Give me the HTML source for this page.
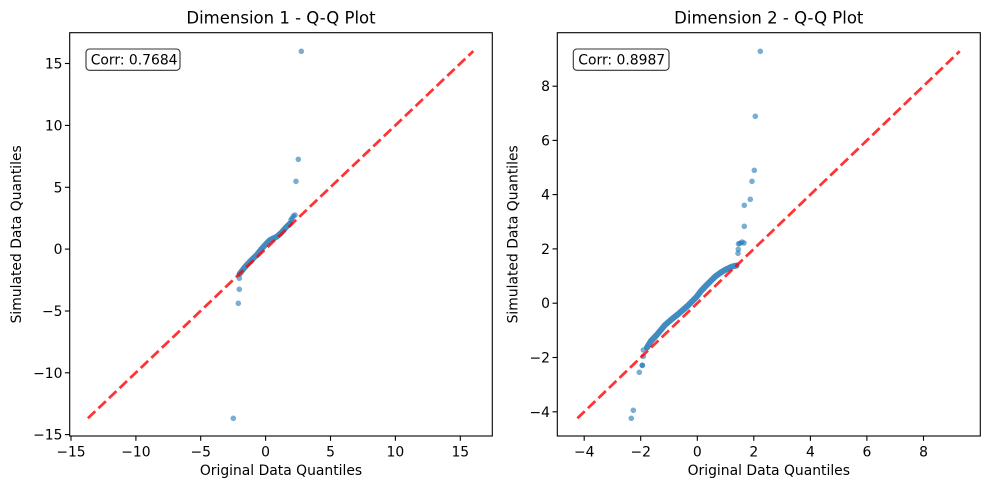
<!DOCTYPE html>
<html><head><meta charset="utf-8"><style>
html,body{margin:0;padding:0;background:#fff;}
svg{display:block;font-family:"DejaVu Sans","Liberation Sans",sans-serif;}
</style></head><body>
<svg width="989" height="490" viewBox="0 0 989 490" xmlns="http://www.w3.org/2000/svg">
<rect width="989" height="490" fill="#fff"/>

<!-- ===== LEFT PLOT ===== -->
<text x="281" y="23.5" font-size="16.5" text-anchor="middle" fill="#000">Dimension 1 - Q-Q Plot</text>
<g fill="#1f77b4" fill-opacity="0.6">
<circle cx="301.3" cy="51.3" r="2.8"/>
<circle cx="298.3" cy="159.3" r="2.8"/>
<circle cx="296" cy="181.3" r="2.8"/>
<circle cx="292" cy="218.3" r="2.8"/>
<circle cx="295" cy="215" r="2.8"/>
<circle cx="293.5" cy="216" r="2.8"/>
<circle cx="291" cy="220" r="2.8"/>
<circle cx="239.3" cy="278.3" r="2.8"/>
<circle cx="239.3" cy="289.3" r="2.8"/>
<circle cx="238.3" cy="303.3" r="2.8"/>
<circle cx="233.3" cy="418.3" r="2.8"/>
</g>
<polyline fill="none" stroke="#1f77b4" stroke-opacity="0.85" stroke-width="5.8" stroke-linecap="round" stroke-linejoin="round"
 points="239.5,274 243,269.5 246.7,265 251,260.5 256.7,255 261,249.5 266.6,243.3 270,240 273,238.5 276.6,236.8 281,233 286.6,226.7 290,223.5"/>
<line x1="87.9" y1="418.3" x2="473.3" y2="51.1" stroke="#ff0000" stroke-opacity="0.8" stroke-width="2.75" stroke-dasharray="10.2 4.4"/>
<rect x="69.7" y="32.7" width="422.6" height="403.3" fill="none" stroke="#000" stroke-width="1.1"/>
<rect x="86" y="49" width="94" height="21.3" rx="3.5" fill="#fff" fill-opacity="0.8" stroke="#000" stroke-opacity="0.8" stroke-width="1.1"/>
<text x="90.7" y="64.3" font-size="13.9" fill="#000">Corr: 0.7684</text>
<!-- x ticks -->
<g stroke="#000" stroke-width="1.1">
<line x1="71" y1="436" x2="71" y2="440.8"/>
<line x1="135.9" y1="436" x2="135.9" y2="440.8"/>
<line x1="200.7" y1="436" x2="200.7" y2="440.8"/>
<line x1="265.6" y1="436" x2="265.6" y2="440.8"/>
<line x1="330.5" y1="436" x2="330.5" y2="440.8"/>
<line x1="395.4" y1="436" x2="395.4" y2="440.8"/>
<line x1="460.3" y1="436" x2="460.3" y2="440.8"/>
<line x1="69.7" y1="63.5" x2="64.9" y2="63.5"/>
<line x1="69.7" y1="125.4" x2="64.9" y2="125.4"/>
<line x1="69.7" y1="187.3" x2="64.9" y2="187.3"/>
<line x1="69.7" y1="249.1" x2="64.9" y2="249.1"/>
<line x1="69.7" y1="311" x2="64.9" y2="311"/>
<line x1="69.7" y1="372.8" x2="64.9" y2="372.8"/>
<line x1="69.7" y1="434.6" x2="64.9" y2="434.6"/>
</g>
<g font-size="13.9" text-anchor="middle" fill="#000">
<text x="71" y="456.7">−15</text>
<text x="135.9" y="456.7">−10</text>
<text x="200.7" y="456.7">−5</text>
<text x="265.6" y="456.7">0</text>
<text x="330.5" y="456.7">5</text>
<text x="395.4" y="456.7">10</text>
<text x="460.3" y="456.7">15</text>
</g>
<g font-size="13.9" text-anchor="end" fill="#000">
<text x="62.5" y="68.5">15</text>
<text x="62.5" y="130.4">10</text>
<text x="62.5" y="192.3">5</text>
<text x="62.5" y="254.1">0</text>
<text x="62.5" y="316">−5</text>
<text x="62.5" y="377.8">−10</text>
<text x="62.5" y="439.6">−15</text>
</g>
<text x="281" y="475" font-size="13.9" text-anchor="middle" fill="#000">Original Data Quantiles</text>
<text transform="translate(21,234.3) rotate(-90)" font-size="13.9" text-anchor="middle" fill="#000">Simulated Data Quantiles</text>

<!-- ===== RIGHT PLOT ===== -->
<text x="768.8" y="23.5" font-size="16.5" text-anchor="middle" fill="#000">Dimension 2 - Q-Q Plot</text>
<g fill="#1f77b4" fill-opacity="0.6">
<circle cx="760.3" cy="51.3" r="2.8"/>
<circle cx="755.3" cy="116.3" r="2.8"/>
<circle cx="754.3" cy="170.3" r="2.8"/>
<circle cx="752" cy="181.3" r="2.8"/>
<circle cx="750.3" cy="199.3" r="2.8"/>
<circle cx="744.3" cy="205.3" r="2.8"/>
<circle cx="744.3" cy="226.3" r="2.8"/>
<circle cx="740" cy="243.3" r="2.8"/>
<circle cx="742" cy="242" r="2.8"/>
<circle cx="744" cy="243" r="2.8"/>
<circle cx="738.5" cy="243.8" r="2.8"/>
<circle cx="738.3" cy="249.3" r="2.8"/>
<circle cx="738" cy="253.3" r="2.8"/>
<circle cx="643.3" cy="350" r="2.8"/>
<circle cx="643.3" cy="356.3" r="2.8"/>
<circle cx="642.3" cy="365.3" r="2.8"/>
<circle cx="642.3" cy="365.3" r="2.8"/>
<circle cx="639.3" cy="372.3" r="2.8"/>
<circle cx="633.3" cy="410.3" r="2.8"/>
<circle cx="631.3" cy="418.3" r="2.8"/>
</g>
<polyline fill="none" stroke="#1f77b4" stroke-opacity="0.85" stroke-width="6" stroke-linecap="round" stroke-linejoin="round"
 points="647,347.5 651,341 656.7,335 665,325 672,319 678.3,314 686.7,306.7 696.7,296.7 701,291 706.7,285 715,276.7 720,273 725,270 731.7,266.7 736.5,265.5"/>
<line x1="577.4" y1="418.3" x2="959.7" y2="51.3" stroke="#ff0000" stroke-opacity="0.8" stroke-width="2.75" stroke-dasharray="10.2 4.4"/>
<rect x="557.3" y="32.7" width="423" height="403.3" fill="none" stroke="#000" stroke-width="1.1"/>
<rect x="573.3" y="49" width="95.7" height="21.3" rx="3.5" fill="#fff" fill-opacity="0.8" stroke="#000" stroke-opacity="0.8" stroke-width="1.1"/>
<text x="578.3" y="64.3" font-size="13.9" fill="#000">Corr: 0.8987</text>
<g stroke="#000" stroke-width="1.1">
<line x1="584.2" y1="436" x2="584.2" y2="440.8"/>
<line x1="640.7" y1="436" x2="640.7" y2="440.8"/>
<line x1="697.3" y1="436" x2="697.3" y2="440.8"/>
<line x1="753.8" y1="436" x2="753.8" y2="440.8"/>
<line x1="810.4" y1="436" x2="810.4" y2="440.8"/>
<line x1="866.9" y1="436" x2="866.9" y2="440.8"/>
<line x1="923.5" y1="436" x2="923.5" y2="440.8"/>
<line x1="557.3" y1="86.2" x2="552.5" y2="86.2"/>
<line x1="557.3" y1="140.4" x2="552.5" y2="140.4"/>
<line x1="557.3" y1="194.6" x2="552.5" y2="194.6"/>
<line x1="557.3" y1="248.9" x2="552.5" y2="248.9"/>
<line x1="557.3" y1="303.2" x2="552.5" y2="303.2"/>
<line x1="557.3" y1="357.5" x2="552.5" y2="357.5"/>
<line x1="557.3" y1="411.8" x2="552.5" y2="411.8"/>
</g>
<g font-size="13.9" text-anchor="middle" fill="#000">
<text x="584.2" y="456.7">−4</text>
<text x="640.7" y="456.7">−2</text>
<text x="697.3" y="456.7">0</text>
<text x="753.8" y="456.7">2</text>
<text x="810.4" y="456.7">4</text>
<text x="866.9" y="456.7">6</text>
<text x="923.5" y="456.7">8</text>
</g>
<g font-size="13.9" text-anchor="end" fill="#000">
<text x="550" y="91.2">8</text>
<text x="550" y="145.4">6</text>
<text x="550" y="199.6">4</text>
<text x="550" y="253.9">2</text>
<text x="550" y="308.2">0</text>
<text x="550" y="362.5">−2</text>
<text x="550" y="416.8">−4</text>
</g>
<text x="768.8" y="475" font-size="13.9" text-anchor="middle" fill="#000">Original Data Quantiles</text>
<text transform="translate(517.5,234.3) rotate(-90)" font-size="13.9" text-anchor="middle" fill="#000">Simulated Data Quantiles</text>
</svg>
</body></html>
